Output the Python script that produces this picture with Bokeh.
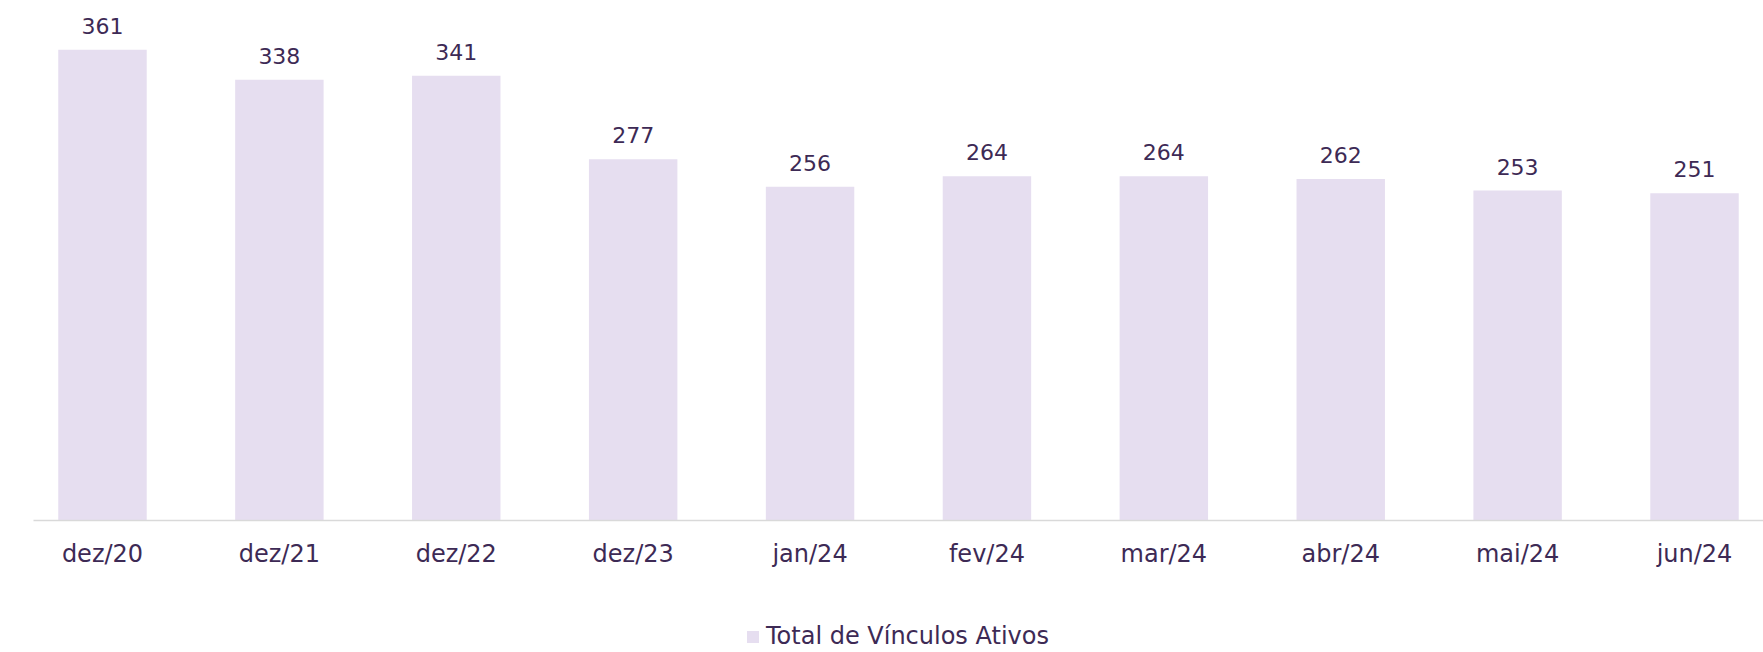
from bokeh.plotting import figure
from bokeh.layouts import column
from bokeh.models import ColumnDataSource, FactorRange, LabelSet, Legend, LegendItem
from bokeh.core.properties import value
from bokeh.embed import file_html
from bokeh.resources import INLINE

categories = ["dez/20", "dez/21", "dez/22", "dez/23", "jan/24", "fev/24", "mar/24", "abr/24", "mai/24", "jun/24"]
values = [361, 338, 341, 277, 256, 264, 264, 262, 253, 251]
series_name = "Total de Vínculos Ativos"

BAR = "#E6DEF0"
TXT = "#3D2A55"
FONT = "DejaVu Sans"

src = ColumnDataSource(dict(cat=categories, val=values, lbl=[str(v) for v in values]))

p = figure(width=1763, height=572, output_backend="svg", toolbar_location=None,
           x_range=FactorRange(factors=categories, range_padding=-0.110, range_padding_units="absolute"),
           y_range=(0, 398.8), min_border_left=33, min_border_right=0, min_border_top=0,
           min_border_bottom=52)
p.outline_line_color = None
p.grid.visible = False
p.yaxis.visible = False

r = p.vbar(x="cat", top="val", width=0.5, source=src, fill_color=BAR, line_color=None)

p.add_layout(LabelSet(x="cat", y="val", text="lbl", source=src, text_align="center",
                      text_baseline="alphabetic", y_offset=16, text_color=TXT,
                      text_font=value(FONT), text_font_size="22px"))

ax = p.xaxis[0]
ax.axis_line_color = "#D9D9D9"
ax.axis_line_width = 1.5
ax.major_tick_line_color = None
ax.minor_tick_line_color = None
ax.major_label_text_font = FONT
ax.major_label_text_font_size = "24px"
ax.major_label_text_color = TXT
ax.major_label_standoff = 13

# legend strip (series bars drawn out of view; only the legend swatch shows)
lg = figure(width=1763, height=80, output_backend="svg", toolbar_location=None,
            x_range=FactorRange(factors=categories), y_range=(10000, 10001), min_border=0)
lg.outline_line_color = None
lg.grid.visible = False
lg.axis.visible = False
lr = lg.vbar(x="cat", top="val", width=0.5, source=src, fill_color=BAR, line_color=None)
leg = Legend(items=[LegendItem(label=series_name, renderers=[lr])], location=(712, 2),
             orientation="horizontal", glyph_width=15, glyph_height=15, label_standoff=6,
             label_text_font=FONT, label_text_font_size="24px", label_text_color=TXT,
             border_line_color=None, background_fill_alpha=0, padding=0, margin=0)
lg.add_layout(leg, "center")

open("out.html", "w").write(file_html(column(p, lg, spacing=0), INLINE))
